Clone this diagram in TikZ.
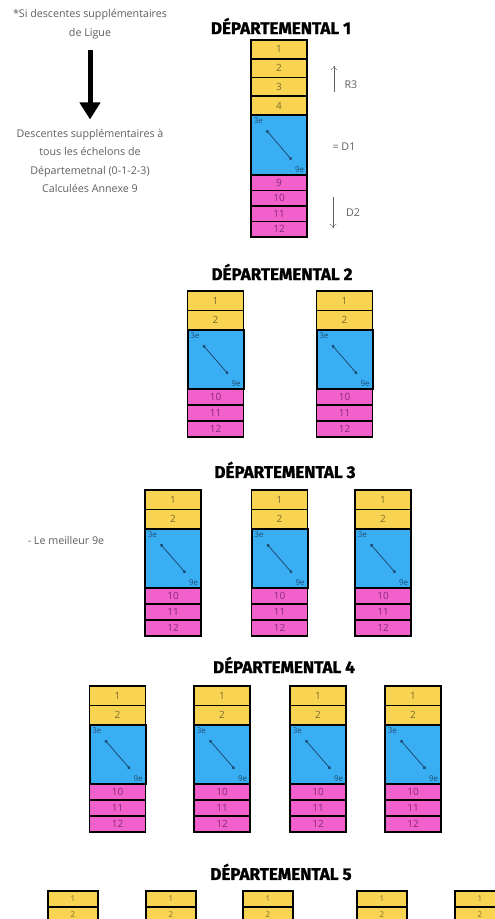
\documentclass[tikz,border=0pt]{standalone}
\usepackage{fontspec}
\setmainfont{Open Sans}
\newfontfamily\titrefont{Fira Sans}[BoldFeatures={FakeBold=1.3}]
\usetikzlibrary{arrows, arrows.meta, positioning}

\definecolor{jauneC}{HTML}{F9D452}
\definecolor{bleuC}{HTML}{3AAEF2}
\definecolor{roseC}{HTML}{F260CB}
\definecolor{grisT}{HTML}{606060}
\definecolor{chiffreJ}{HTML}{7D6C2C}
\definecolor{chiffreR}{HTML}{862A78}
\definecolor{chiffreB}{HTML}{1E4B74}

% une colonne : nom, x, y du haut
\newcommand{\colonne}[3]{%
	\node[jaune, anchor=north] (#1-1) at (#2,#3) {1};
	\node[jaune, below=0pt of #1-1] (#1-2) {2};
	\node[bleu, below=0pt of #1-2] (#1-b) {};
	\node[rose, below=0pt of #1-b] (#1-10) {10};
	\node[rose, below=0pt of #1-10] (#1-11) {11};
	\node[rose, below=0pt of #1-11] (#1-12) {12};
	\node[rang, anchor=north west] (#1-3e) at (#1-b.north west) {3e};
	\node[rang, anchor=south east] (#1-9e) at (#1-b.south east) {9e};
	\draw[trait] (#1-3e) -- (#1-9e);
}

\begin{document}
\begin{tikzpicture}[x=1pt, y=-1pt, >=to, semithick]
		\tikzstyle{titre}=[font=\titrefont\bfseries\fontsize{17}{17}\selectfont, inner sep=0pt]
		\tikzstyle{texte}=[text=grisT, font=\fontsize{10.7}{18.5}\selectfont, align=center]
		\tikzstyle{case}=[draw=black, line width=1.6pt, inner sep=0pt, outer sep=0pt, minimum width=56pt, font=\fontsize{10}{10}\selectfont]
		\tikzstyle{jaune}=[case, fill=jauneC, text=chiffreJ, minimum height=19.5pt]
		\tikzstyle{bleu}=[case, fill=bleuC, line width=2pt, minimum height=59pt]
		\tikzstyle{rose}=[case, fill=roseC, text=chiffreR, minimum height=16pt]
		\tikzstyle{rang}=[text=chiffreB, font=\fontsize{8}{8}\selectfont, inner sep=2.5pt]
		\tikzstyle{trait}=[draw=chiffreB, thick, {Circle[length=3pt]}-{Circle[length=3pt]}, shorten <=5pt, shorten >=5pt]
		\tikzstyle{fleche fine}=[-{To[length=4pt,width=7pt]}, draw=grisT, thin]

		\useasboundingbox (0,0) rectangle (495,919);
		\fill[white] (0,0) rectangle (495,919);
		\clip (0,0) rectangle (495,919);

		% renvoi a gauche
		\node[texte] (ligue) at (90,24) {*Si descentes supplémentaires\\de Ligue};
		\node[texte] (desc) at (90,161) {Descentes supplémentaires à\\tous les échelons de\\Départemetnal (0-1-2-3)\\Calculées Annexe 9};
		\draw[line width=5pt, -{Triangle[width=20pt,length=17pt]}, shorten <=8pt, shorten >=6pt] (ligue) -- (desc);

		% departemental 1
		\node[titre] (t1) at (281,26) {DÉPARTEMENTAL 1};
		\node[jaune, anchor=north, minimum height=18.75pt] (d1-1) at (279,40) {1};
		\node[jaune, minimum height=18.75pt] (d1-2) [below=0pt of d1-1] {2};
		\node[jaune, minimum height=18.75pt] (d1-3) [below=0pt of d1-2] {3};
		\node[jaune, minimum height=18.75pt] (d1-4) [below=0pt of d1-3] {4};
		\node[bleu, minimum height=60pt] (d1-b) [below=0pt of d1-4] {};
		\node[rose, minimum height=15.5pt] (d1-9) [below=0pt of d1-b] {9};
		\node[rose, minimum height=15.5pt] (d1-10) [below=0pt of d1-9] {10};
		\node[rose, minimum height=15.5pt] (d1-11) [below=0pt of d1-10] {11};
		\node[rose, minimum height=15.5pt] (d1-12) [below=0pt of d1-11] {12};
		\node[rang, anchor=north west] (d1-3e) at (d1-b.north west) {3e};
		\node[rang, anchor=south east] (d1-9e) at (d1-b.south east) {9e};
		\draw[trait] (d1-3e) -- (d1-9e);

		\node[texte] (r3) at (351,85) {R3};
		\coordinate (r3-bas) at (334,92);
		\coordinate (r3-haut) at (334,66);
		\draw[fleche fine] (r3-bas) -- (r3-haut);
		\node[texte] (eg) at (344,147) {= D1};
		\node[texte] (d2) at (353,213) {D2};
		\coordinate (d2-haut) at (333,197);
		\coordinate (d2-bas) at (333,228);
		\draw[fleche fine] (d2-haut) -- (d2-bas);

		% departemental 2
		\node[titre] (t2) at (282,272) {DÉPARTEMENTAL 2};
		\colonne{d2a}{215.5}{291}
		\colonne{d2b}{344.5}{291}

		% departemental 3
		\node[titre] (t3) at (285,470) {DÉPARTEMENTAL 3};
		\node[texte] (meilleur) at (66,540) {- Le meilleur 9e};
		\colonne{d3a}{173}{490}
		\colonne{d3b}{279.5}{490}
		\colonne{d3c}{383}{490}

		% departemental 4
		\node[titre] (t4) at (284,665) {DÉPARTEMENTAL 4};
		\colonne{d4a}{117.5}{686}
		\colonne{d4b}{222}{686}
		\colonne{d4c}{318}{686}
		\colonne{d4d}{413}{686}

		% departemental 5 (coupe en bas)
		\node[titre] (t5) at (281,872) {DÉPARTEMENTAL 5};
		\foreach \n/\x in {a/73, b/171, c/268, d/382, e/480} {
			\node[jaune, anchor=north, minimum width=50pt, minimum height=16pt, font=\fontsize{8}{8}\selectfont] (d5\n-1) at (\x,891) {1};
			\node[jaune, minimum width=50pt, minimum height=16pt, font=\fontsize{8}{8}\selectfont] (d5\n-2) [below=0pt of d5\n-1] {2};
			\node[bleu, minimum width=50pt, minimum height=50pt] (d5\n-b) [below=0pt of d5\n-2] {};
		}
\end{tikzpicture}
\end{document}
